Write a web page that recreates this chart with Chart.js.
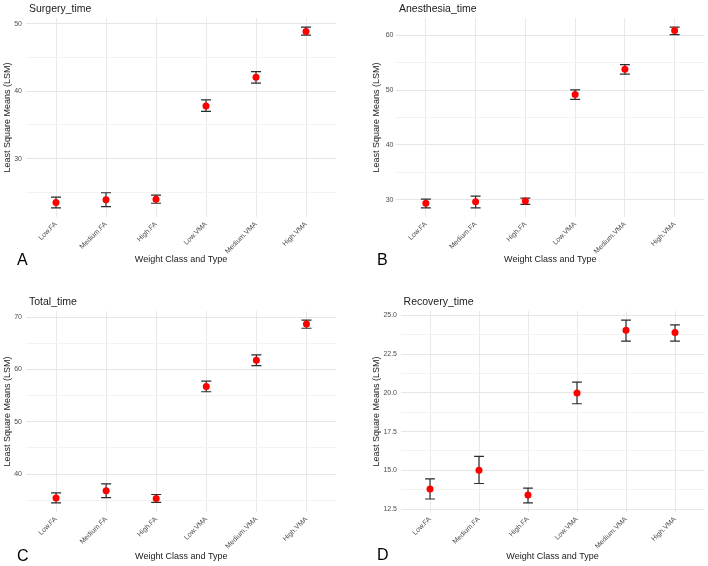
<!DOCTYPE html>
<html>
<head>
<meta charset="utf-8">
<script src="https://cdn.jsdelivr.net/npm/chart.js@4.4.1/dist/chart.umd.min.js"></script>
<style>
  body { margin: 0; background: #fff; }
  #wrap { position: relative; width: 708px; height: 566px; overflow: hidden; }
  .panel { position: absolute; }
</style>
</head>
<body>
<div id="wrap">
  <div class="panel" style="left:0;top:0;width:354px;height:283px"><canvas id="cA"></canvas></div>
  <div class="panel" style="left:354px;top:0;width:354px;height:283px"><canvas id="cB"></canvas></div>
  <div class="panel" style="left:0;top:293px;width:354px;height:273px"><canvas id="cC"></canvas></div>
  <div class="panel" style="left:354px;top:293px;width:354px;height:273px"><canvas id="cD"></canvas></div>
</div>
<script>
const categories = ['Low.FA', 'Medium.FA', 'High.FA', 'Low.VMA', 'Medium.VMA', 'High.VMA'];

const surgeryMean  = [23.5, 23.9, 24.0, 37.8, 42.05, 48.85];
const surgeryLower = [22.7, 22.9, 23.4, 37.0, 41.2, 48.3];
const surgeryUpper = [24.3, 24.95, 24.6, 38.7, 42.9, 49.5];

const anesthesiaMean  = [29.35, 29.65, 29.75, 49.2, 53.8, 60.85];
const anesthesiaLower = [28.5, 28.5, 29.15, 48.3, 52.9, 60.1];
const anesthesiaUpper = [30.1, 30.65, 30.3, 50.05, 54.65, 61.5];

const totalMean  = [35.45, 36.8, 35.35, 56.75, 61.8, 68.7];
const totalLower = [34.5, 35.5, 34.6, 55.75, 60.75, 67.9];
const totalUpper = [36.4, 38.15, 36.1, 57.8, 62.8, 69.45];

const recoveryMean  = [13.8, 15.0, 13.4, 20.0, 24.05, 23.9];
const recoveryLower = [13.15, 14.15, 12.9, 19.3, 23.35, 23.35];
const recoveryUpper = [14.45, 15.9, 13.85, 20.7, 24.7, 24.4];

const surgeryTicks = [30, 40, 50];
const surgeryMinor = [25, 35, 45];
const anesthesiaTicks = [30, 40, 50, 60];
const anesthesiaMinor = [35, 45, 55];
const totalTicks = [40, 50, 60, 70];
const totalMinor = [35, 45, 55, 65];
const recoveryTicks = [12.5, 15, 17.5, 20, 22.5, 25];
const recoveryMinor = [13.75, 16.25, 18.75, 21.25, 23.75];

const FONT = '"Liberation Sans", Arial, sans-serif';
Chart.defaults.font.family = FONT;

// error bars drawn under the points, through the chart's own scales
const errorBars = {
  id: 'errorBars',
  beforeDatasetsDraw(chart, args, opts) {
    const { ctx, scales: { x, y } } = chart;
    ctx.save();
    ctx.strokeStyle = '#2b2b2b';
    ctx.lineWidth = 1.2;
    opts.lower.forEach((lo, i) => {
      const hi = opts.upper[i];
      const px = x.getPixelForValue(i);
      const cl = x.getPixelForValue(i - 0.1);
      const cr = x.getPixelForValue(i + 0.1);
      const y1 = y.getPixelForValue(lo);
      const y2 = y.getPixelForValue(hi);
      ctx.beginPath();
      ctx.moveTo(px, y1); ctx.lineTo(px, y2);
      ctx.moveTo(cl, y1); ctx.lineTo(cr, y1);
      ctx.moveTo(cl, y2); ctx.lineTo(cr, y2);
      ctx.stroke();
    });
    ctx.restore();
  }
};

// panel title (aligned to the plot panel) and the A/B/C/D tag
const panelText = {
  id: 'panelText',
  afterDraw(chart, args, opts) {
    const { ctx, chartArea } = chart;
    ctx.save();
    ctx.fillStyle = '#1a1a1a';
    ctx.textAlign = 'left';
    ctx.textBaseline = 'alphabetic';
    ctx.font = '10.5px ' + FONT;
    ctx.fillText(opts.title, chartArea.left + 3, 11.5);
    ctx.fillStyle = '#000';
    ctx.font = '16px ' + FONT;
    ctx.fillText(opts.letter, opts.letterX, opts.letterY);
    ctx.restore();
  }
};

function makePanel(id, title, letter, mean, lower, upper, major, minor, fmt, g) {
  const lo = Math.min(...lower), hi = Math.max(...upper);
  const pad = (hi - lo) * 0.05;
  const allTicks = [...major, ...minor].sort((a, b) => a - b);
  const tickFont = { size: 7, family: FONT };

  new Chart(document.getElementById(id), {
    type: 'scatter',
    data: {
      datasets: [{
        data: mean.map((v, i) => ({ x: i, y: v })),
        backgroundColor: '#ff0000',
        borderWidth: 0,
        pointRadius: 3.5,
        pointHoverRadius: 3.5
      }]
    },
    options: {
      responsive: true,
      maintainAspectRatio: false,
      animation: false,
      layout: { padding: { left: g.padL, right: g.padR, top: 18, bottom: 0 } },
      plugins: {
        legend: { display: false },
        tooltip: { enabled: false },
        errorBars: { lower, upper },
        panelText: { title, letter, letterX: g.letterX, letterY: g.letterY }
      },
      scales: {
        x: {
          type: 'linear',
          min: -0.6,
          max: 5.6,
          afterBuildTicks: s => { s.ticks = categories.map((c, i) => ({ value: i })); },
          afterFit: s => { s.height = g.xH; },
          ticks: {
            autoSkip: false,
            minRotation: 45,
            maxRotation: 45,
            padding: 3,
            font: tickFont,
            color: '#4d4d4d',
            callback: v => categories[v]
          },
          grid: { color: '#e9e9e9', drawTicks: false },
          border: { display: false },
          title: {
            display: true,
            text: 'Weight Class and Type',
            color: '#1a1a1a',
            font: { size: 9, family: FONT },
            padding: { top: 0, bottom: g.xTitlePad }
          }
        },
        y: {
          min: lo - pad,
          max: hi + pad,
          afterBuildTicks: s => { s.ticks = allTicks.map(v => ({ value: v })); },
          afterFit: s => { s.width = g.yW; },
          ticks: {
            autoSkip: false,
            padding: g.tickPad,
            font: tickFont,
            color: '#4d4d4d',
            callback: v => major.includes(v) ? fmt(v) : ''
          },
          grid: {
            color: c => major.includes(c.tick.value) ? '#e6e6e6' : '#f3f3f3',
            drawTicks: false
          },
          border: { display: false },
          title: {
            display: true,
            text: 'Least Square Means (LSM)',
            color: '#1a1a1a',
            font: { size: 9, family: FONT },
            padding: { top: 2, bottom: 0 }
          }
        }
      }
    },
    plugins: [errorBars, panelText]
  });
}

const intFmt = v => String(v);
const decFmt = v => v.toFixed(1);

makePanel('cA', 'Surgery_time', 'A', surgeryMean, surgeryLower, surgeryUpper, surgeryTicks, surgeryMinor, intFmt,
  { padL: 0, yW: 26, padR: 18, xH: 66, xTitlePad: 17.6, tickPad: 4, letterX: 17, letterY: 265 });
makePanel('cB', 'Anesthesia_time', 'B', anesthesiaMean, anesthesiaLower, anesthesiaUpper, anesthesiaTicks, anesthesiaMinor, intFmt,
  { padL: 15, yW: 27, padR: 3, xH: 66, xTitlePad: 17.6, tickPad: 2.5, letterX: 23, letterY: 265 });
makePanel('cC', 'Total_time', 'C', totalMean, totalLower, totalUpper, totalTicks, totalMinor, intFmt,
  { padL: 0, yW: 26, padR: 17.5, xH: 54, xTitlePad: 3.6, tickPad: 4, letterX: 17, letterY: 268 });
makePanel('cD', 'Recovery_time', 'D', recoveryMean, recoveryLower, recoveryUpper, recoveryTicks, recoveryMinor, decFmt,
  { padL: 15, yW: 31.6, padR: 3.6, xH: 54, xTitlePad: 3.6, tickPad: 3.6, letterX: 23, letterY: 267 });
</script>
</body>
</html>
